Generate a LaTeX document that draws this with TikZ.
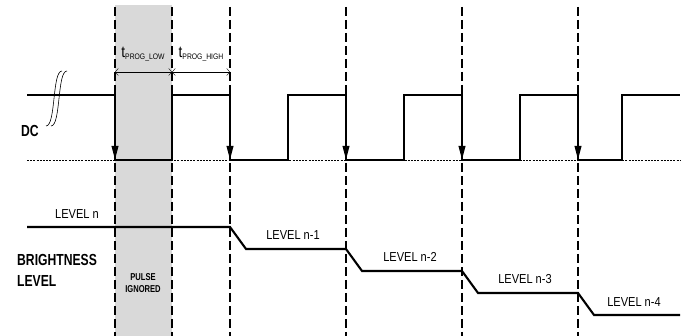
\documentclass[tikz,border=0pt]{standalone}
\usepackage{fontspec}
\setmainfont{Liberation Sans}[FakeStretch=0.85]
\newfontfamily\headfont{Liberation Sans}[FakeStretch=0.76]
\usepackage{tikz}
\usetikzlibrary{arrows.meta}

\begin{document}
\begin{tikzpicture}[x=1pt,y=-1pt]
    \definecolor{mygray}{RGB}{217,217,217}
    \tikzstyle{sig}=[line width=2.1pt]  % signal lines
    \tikzstyle{grid}=[line width=1.3pt,dash pattern=on 9pt off 4pt]  % vertical marks
    \tikzstyle{base}=[line width=0.8pt,dash pattern=on 2pt off 1.2pt]  % low level
    \tikzstyle{edge}=[sig,-{Triangle[length=14pt,width=6.5pt]}]
    \tikzstyle{dim}=[thin,{Straight Barb[length=3pt,width=7pt]}-{Straight Barb[length=3pt,width=7pt]}]
    \tikzstyle{lvl}=[inner sep=0pt,font=\fontsize{13}{14}\selectfont]
    \tikzstyle{head}=[inner sep=0pt,font=\headfont\bfseries\fontsize{16}{21}\selectfont,align=left]

    \useasboundingbox (0,0) rectangle (688,336);
    \fill[mygray] (115,5) rectangle (172,336);  % ignored pulse
    \foreach \x in {115,172,230,346,462,578}
        \draw[grid] (\x,7) -- (\x,336);

    % DC
    \draw[base] (27,160) -- (680,160);
    \draw[sig] (27,95) -- (115,95) -- (115,160) -- (172,160) -- (172,95) -- (230,95) -- (230,160)
        -- (288,160) -- (288,95) -- (346,95) -- (346,160) -- (404,160) -- (404,95) -- (462,95)
        -- (462,160) -- (520,160) -- (520,95) -- (578,95) -- (578,160) -- (622,160) -- (622,95) -- (680,95);
    \foreach \x [count=\i] in {115,230,346,462,578}{
        \coordinate (hi\i) at (\x,95);
        \coordinate (lo\i) at (\x,160);
        \draw[edge] (hi\i) -- (lo\i);
    }
    \foreach \d in {0,5}
        \draw[line width=0.6pt] ({46+\d},126) .. controls ({56+\d},126) and ({52+\d},71) .. ({62+\d},71);
    \node[head] (dc) at (30,131) {DC};

    % timing
    \coordinate (pa) at (115,72);
    \coordinate (pb) at (172,72);
    \coordinate (pc) at (230,72);
    \draw[dim] (pa) -- (pb);
    \draw[dim] (pb) -- (pc);
    \node[inner sep=0pt] (tlow) at (143,54) {{\fontsize{16}{16}\selectfont t}\raisebox{-2pt}{\fontsize{8}{8}\selectfont PROG\_LOW}};
    \node[inner sep=0pt] (thigh) at (201,54) {{\fontsize{16}{16}\selectfont t}\raisebox{-2pt}{\fontsize{8}{8}\selectfont PROG\_HIGH}};

    % brightness
    \draw[sig] (27,227) -- (230,227) -- (246,249) -- (346,249) -- (362,271) -- (462,271)
        -- (478,293) -- (578,293) -- (594,315) -- (680,315);
    \node[lvl] (l0) at (77,214) {LEVEL n};
    \node[lvl] (l1) at (293,235) {LEVEL n-1};
    \node[lvl] (l2) at (410,257) {LEVEL n-2};
    \node[lvl] (l3) at (525,279) {LEVEL n-3};
    \node[lvl] (l4) at (634,302) {LEVEL n-4};
    \node[head,anchor=west] (bl) at (17,270) {BRIGHTNESS\\LEVEL};
    \node[inner sep=0pt,align=center,font=\headfont\bfseries\fontsize{10}{11.5}\selectfont] (pi) at (143,283) {PULSE\\IGNORED};
\end{tikzpicture}
\end{document}
